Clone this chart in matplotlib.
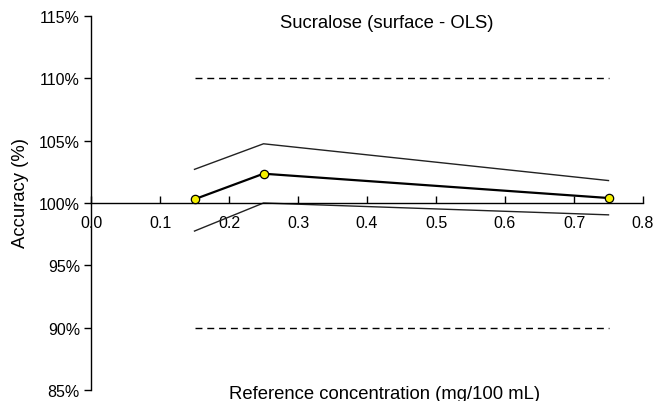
import matplotlib
matplotlib.use("Agg")
import matplotlib.pyplot as plt
from matplotlib.ticker import FuncFormatter

# --- Data ---
conc = [0.15, 0.25, 0.75]
accuracy = [1.003, 1.0235, 1.004]
upper_limit = [1.027, 1.0475, 1.018]
lower_limit = [0.9775, 1.000, 0.9905]
limit_x = [0.15, 0.75]
acc_high = [1.10, 1.10]
acc_low = [0.90, 0.90]

plt.rcParams['font.family'] = ['Liberation Sans', 'DejaVu Sans']

fig = plt.figure(figsize=(6.59, 4.02), dpi=100)
ax = fig.add_axes([91 / 659, 1 - 391 / 402, (643 - 91) / 659, (391 - 17) / 402])

# tolerance band
ax.plot(limit_x, acc_high, color="black", lw=1.0, dashes=(5, 3.5))
ax.plot(limit_x, acc_low, color="black", lw=1.0, dashes=(5, 3.5))

# confidence limits
ax.plot(conc, upper_limit, color="#222222", lw=1.0)
ax.plot(conc, lower_limit, color="#222222", lw=1.0)

# mean accuracy
ax.plot(conc, accuracy, color="black", lw=1.6, marker="o", markersize=6,
        markerfacecolor="#f5f000", markeredgecolor="black", markeredgewidth=0.9,
        zorder=5)

ax.set_xlim(0.0, 0.8)
ax.set_ylim(0.85, 1.15)
ax.set_xticks([0.0, 0.1, 0.2, 0.3, 0.4, 0.5, 0.6, 0.7, 0.8])
ax.set_yticks([0.85, 0.90, 0.95, 1.00, 1.05, 1.10, 1.15])
ax.yaxis.set_major_formatter(FuncFormatter(lambda v, p: f"{v * 100:.0f}%"))
ax.xaxis.set_major_formatter(FuncFormatter(lambda v, p: f"{v:.1f}"))

ax.spines["top"].set_visible(False)
ax.spines["right"].set_visible(False)
ax.spines["bottom"].set_position(("data", 1.0))
for s in ("left", "bottom"):
    ax.spines[s].set_linewidth(1.0)

ax.tick_params(axis="x", direction="in", length=5, width=1.0, pad=9, labelsize=11.5)
ax.tick_params(axis="y", direction="out", length=5, width=1.0, pad=3, labelsize=11.5)

fig.text(387 / 659, 1 - 24 / 402, "Sucralose (surface - OLS)",
         ha="center", va="center", fontsize=13.3)
fig.text(385 / 659, 1 - 395 / 402, "Reference concentration (mg/100 mL)",
         ha="center", va="center", fontsize=13.3)
fig.text(21 / 659, 1 - 193 / 402, "Accuracy (%)", rotation=90,
         ha="center", va="center", fontsize=13.3)

fig.savefig("out.png", dpi=100)
